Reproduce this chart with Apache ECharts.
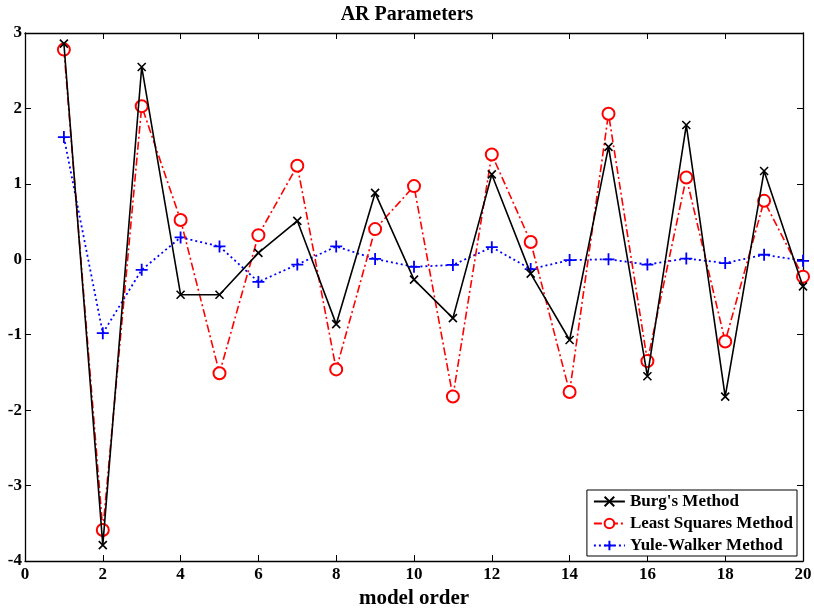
<!DOCTYPE html>
<html>
<head>
<meta charset="utf-8">
<script src="https://cdn.jsdelivr.net/npm/echarts@6/dist/echarts.min.js"></script>
<style>
  html, body { margin: 0; padding: 0; background: #fff; }
  #chart { width: 814px; height: 609px; }
</style>
</head>
<body>
<div id="chart"></div>
<script>
// Model orders 1..20
const orders = [1, 2, 3, 4, 5, 6, 7, 8, 9, 10, 11, 12, 13, 14, 15, 16, 17, 18, 19, 20];

// AR parameter estimates for each method
const burg = [2.86, -3.79, 2.55, -0.47, -0.47, 0.085, 0.51, -0.86, 0.88, -0.27,
              -0.78, 1.125, -0.19, -1.07, 1.49, -1.55, 1.78, -1.82, 1.17, -0.36];
const leastSquares = [2.78, -3.59, 2.03, 0.52, -1.51, 0.32, 1.24, -1.46, 0.40, 0.97,
                      -1.82, 1.39, 0.23, -1.76, 1.93, -1.35, 1.085, -1.09, 0.775, -0.23];
const yuleWalker = [1.62, -0.98, -0.14, 0.29, 0.17, -0.30, -0.07, 0.17, 0.005, -0.10,
                    -0.075, 0.16, -0.13, -0.01, 0.0, -0.07, 0.01, -0.05, 0.06, -0.02];

const seriesNames = ["Burg's Method", 'Least Squares Method', 'Yule-Walker Method'];
const xTicks = [0, 2, 4, 6, 8, 10, 12, 14, 16, 18, 20];
const yTicks = [-4, -3, -2, -1, 0, 1, 2, 3];

const font = 'Liberation Serif';
const pairs = vals => orders.map((x, i) => [x, vals[i]]);

const chart = echarts.init(document.getElementById('chart'), null, { renderer: 'canvas' });

const axisLineStyle = { show: true, onZero: false, lineStyle: { color: '#000', width: 1.3 } };
const tickInside = { show: true, inside: true, length: 6, lineStyle: { color: '#000', width: 1 } };
const tickLabel = { fontFamily: font, fontWeight: 'bold', fontSize: 17, color: '#000' };

chart.setOption({
  animation: false,
  backgroundColor: '#fff',
  title: {
    text: 'AR Parameters',
    left: 'center',
    top: 0,
    textStyle: { fontFamily: font, fontWeight: 'bold', fontSize: 20, color: '#000' }
  },
  grid: { left: 25, right: 11, top: 33, bottom: 48, containLabel: false, outerBoundsMode: 'none' },
  legend: {
    orient: 'vertical',
    right: 17,
    bottom: 53,
    data: seriesNames,
    backgroundColor: '#fff',
    borderColor: '#000',
    borderWidth: 1,
    borderRadius: 0,
    padding: [3, 4, 2, 6],
    itemGap: 5,
    itemWidth: 31,
    itemHeight: 12,
    textStyle: { fontFamily: font, fontWeight: 'bold', fontSize: 17, color: '#000' }
  },
  xAxis: [{
    type: 'value',
    min: 0, max: 20, interval: 2,
    name: 'model order',
    nameLocation: 'middle',
    nameGap: 24,
    nameTextStyle: { fontFamily: font, fontWeight: 'bold', fontSize: 21, color: '#000' },
    axisLine: axisLineStyle,
    axisTick: tickInside,
    splitLine: { show: false },
    axisLabel: { margin: 5, ...tickLabel, customValues: xTicks }
  }, {
    type: 'value', position: 'top',
    min: 0, max: 20, interval: 2,
    axisLine: axisLineStyle,
    axisTick: tickInside,
    axisLabel: { show: false },
    splitLine: { show: false }
  }],
  yAxis: [{
    type: 'value',
    min: -4, max: 3, interval: 1,
    axisLine: axisLineStyle,
    axisTick: tickInside,
    splitLine: { show: false },
    axisLabel: { margin: 3, ...tickLabel, customValues: yTicks }
  }, {
    type: 'value', position: 'right',
    min: -4, max: 3, interval: 1,
    axisLine: axisLineStyle,
    axisTick: tickInside,
    axisLabel: { show: false },
    splitLine: { show: false }
  }],
  series: [{
    name: seriesNames[0],
    type: 'line',
    data: pairs(burg),
    symbol: 'path://M0,0L10,10M10,0L0,10',
    symbolSize: 8,
    itemStyle: { color: '#000', borderColor: '#000', borderWidth: 1.6 },
    lineStyle: { color: '#000', width: 1.6, type: 'solid' },
    z: 3
  }, {
    name: seriesNames[1],
    type: 'line',
    data: pairs(leastSquares),
    symbol: 'emptyCircle',
    symbolSize: 12,
    itemStyle: { color: '#f00', borderColor: '#f00', borderWidth: 1.6 },
    lineStyle: { color: '#f00', width: 1.6, type: [8, 3, 2, 3] },
    z: 2
  }, {
    name: seriesNames[2],
    type: 'line',
    data: pairs(yuleWalker),
    symbol: 'path://M5,0L5,10M0,5L10,5',
    symbolSize: 12,
    itemStyle: { color: '#00f', borderColor: '#00f', borderWidth: 1.8 },
    lineStyle: { color: '#00f', width: 1.8, type: [2, 3] },
    z: 1
  }]
});
</script>
</body>
</html>
